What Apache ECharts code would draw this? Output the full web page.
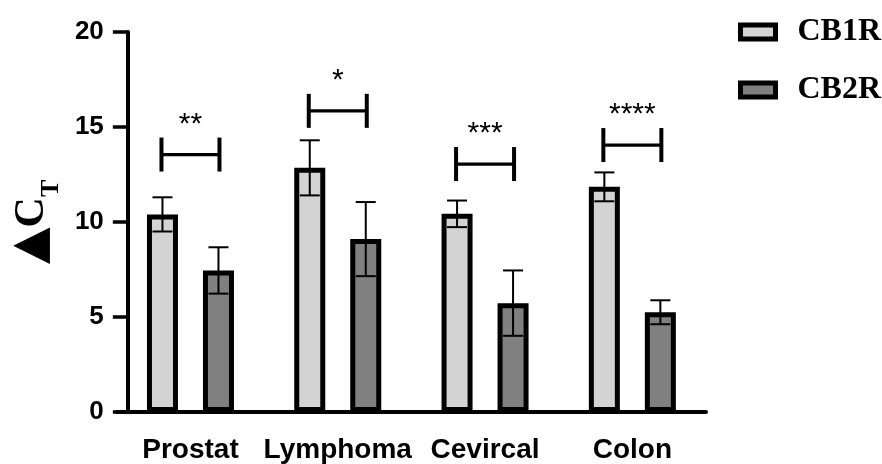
<!DOCTYPE html>
<html>
<head>
<meta charset="utf-8">
<script src="https://cdn.jsdelivr.net/npm/echarts@6/dist/echarts.min.js"></script>
<style>html,body{margin:0;padding:0;background:#fff}#c{width:882px;height:464px}</style>
</head>
<body>
<div id="c"></div>
<script>
const categories = ['Prostat', 'Lymphoma', 'Cevircal', 'Colon'];
const cb1rMean = [10.4, 12.85, 10.43, 11.85];
const cb1rErr = [0.9, 1.45, 0.7, 0.76];
const cb2rMean = [7.45, 9.1, 5.73, 5.25];
const cb2rErr = [1.22, 1.95, 1.72, 0.63];
const sigY = [13.55, 15.85, 13.05, 14.05];
const sigLabel = ['**', '*', '***', '****'];
const seriesNames = ['CB1R', 'CB2R'];

const SANS = 'Liberation Sans';
const SERIF = 'Liberation Serif';
const BAR_W = 31, GAP_PX = 25;
const OFF = (BAR_W + GAP_PX) / 2;

function errRender(offset) {
  return function (params, api) {
    const i = api.value(0), m = api.value(1), e = api.value(2);
    const cx = api.coord([i, m])[0] + offset;
    const yt = api.coord([i, m + e])[1];
    const yb = api.coord([i, m - e])[1];
    const cw = 10;
    const st = { stroke: '#000', lineWidth: 2 };
    return {
      type: 'group', children: [
        { type: 'line', shape: { x1: cx, y1: yt, x2: cx, y2: yb }, style: st },
        { type: 'line', shape: { x1: cx - cw, y1: yt, x2: cx + cw, y2: yt }, style: st },
        { type: 'line', shape: { x1: cx - cw, y1: yb, x2: cx + cw, y2: yb }, style: st }
      ]
    };
  };
}

function sigRender(params, api) {
  const i = api.value(0), y = api.value(1);
  const p = api.coord([i, y]);
  const hw = 29, vh = 17;
  const label = sigLabel[params.dataIndex];
  return {
    type: 'group', children: [
      { type: 'line', shape: { x1: p[0] - hw, y1: p[1], x2: p[0] + hw, y2: p[1] }, style: { stroke: '#000', lineWidth: 3.3 } },
      { type: 'line', shape: { x1: p[0] - hw, y1: p[1] - vh, x2: p[0] - hw, y2: p[1] + vh }, style: { stroke: '#000', lineWidth: 4 } },
      { type: 'line', shape: { x1: p[0] + hw, y1: p[1] - vh, x2: p[0] + hw, y2: p[1] + vh }, style: { stroke: '#000', lineWidth: 4 } },
      { type: 'text', style: { text: label, x: p[0], y: p[1] - 30, textAlign: 'center', textVerticalAlign: 'middle', font: '30px "' + SANS + '"', fill: '#000' } }
    ]
  };
}

const chart = echarts.init(document.getElementById('c'));
chart.setOption({
  animation: false,
  backgroundColor: '#fff',
  grid: { left: 114, width: 592, top: 32, bottom: 51, containLabel: false },
  legend: {
    orient: 'vertical', left: 733, top: 11, itemGap: 26,
    itemWidth: 35, itemHeight: 14, icon: 'rect',
    data: seriesNames,
    itemStyle: { borderColor: '#000', borderWidth: 5 },
    textStyle: { fontFamily: SERIF, fontWeight: 'bold', fontSize: 32, color: '#000', padding: [0, 0, 0, 17] }
  },
  xAxis: {
    type: 'category', data: categories,
    axisLine: { lineStyle: { color: '#000', width: 4 } },
    axisTick: { alignWithLabel: true, length: 15, lineStyle: { color: '#000', width: 3.5 } },
    axisLabel: { interval: 0, color: '#000', fontFamily: SANS, fontWeight: 'bold', fontSize: 28, margin: 24 }
  },
  yAxis: {
    type: 'value', min: 0, max: 20, interval: 5, offset: -11,
    splitLine: { show: false },
    axisLine: { show: true, lineStyle: { color: '#000', width: 4 } },
    axisTick: { show: true, length: 15, lineStyle: { color: '#000', width: 3.5 } },
    axisLabel: { color: '#000', fontFamily: SANS, fontWeight: 'bold', fontSize: 26, margin: 24 },
    name: '{t|▲}{c|C}{s|T}',
    nameLocation: 'middle', nameRotate: 90, nameGap: 64,
    nameTextStyle: {
      rich: {
        t: { fontFamily: 'DejaVu Sans', fontSize: 48, color: '#000' },
        c: { fontFamily: SERIF, fontWeight: 'bold', fontSize: 42, color: '#000' },
        s: { fontFamily: SERIF, fontWeight: 'bold', fontSize: 26, color: '#000', verticalAlign: 'bottom', padding: [0, 0, -8, 0] }
      }
    }
  },
  series: [
    {
      name: seriesNames[0], type: 'bar', data: cb1rMean, barWidth: BAR_W, barGap: (GAP_PX / BAR_W * 100) + '%',
      itemStyle: { color: '#d3d3d3', borderColor: '#000', borderWidth: 5 }
    },
    {
      name: seriesNames[1], type: 'bar', data: cb2rMean, barWidth: BAR_W,
      itemStyle: { color: '#808080', borderColor: '#000', borderWidth: 5 }
    },
    {
      type: 'custom', z: 5, renderItem: errRender(-OFF),
      data: cb1rMean.map((m, i) => [i, m, cb1rErr[i]])
    },
    {
      type: 'custom', z: 5, renderItem: errRender(OFF),
      data: cb2rMean.map((m, i) => [i, m, cb2rErr[i]])
    },
    {
      type: 'custom', z: 5, renderItem: sigRender,
      data: sigY.map((y, i) => [i, y])
    }
  ]
});
</script>
</body>
</html>
